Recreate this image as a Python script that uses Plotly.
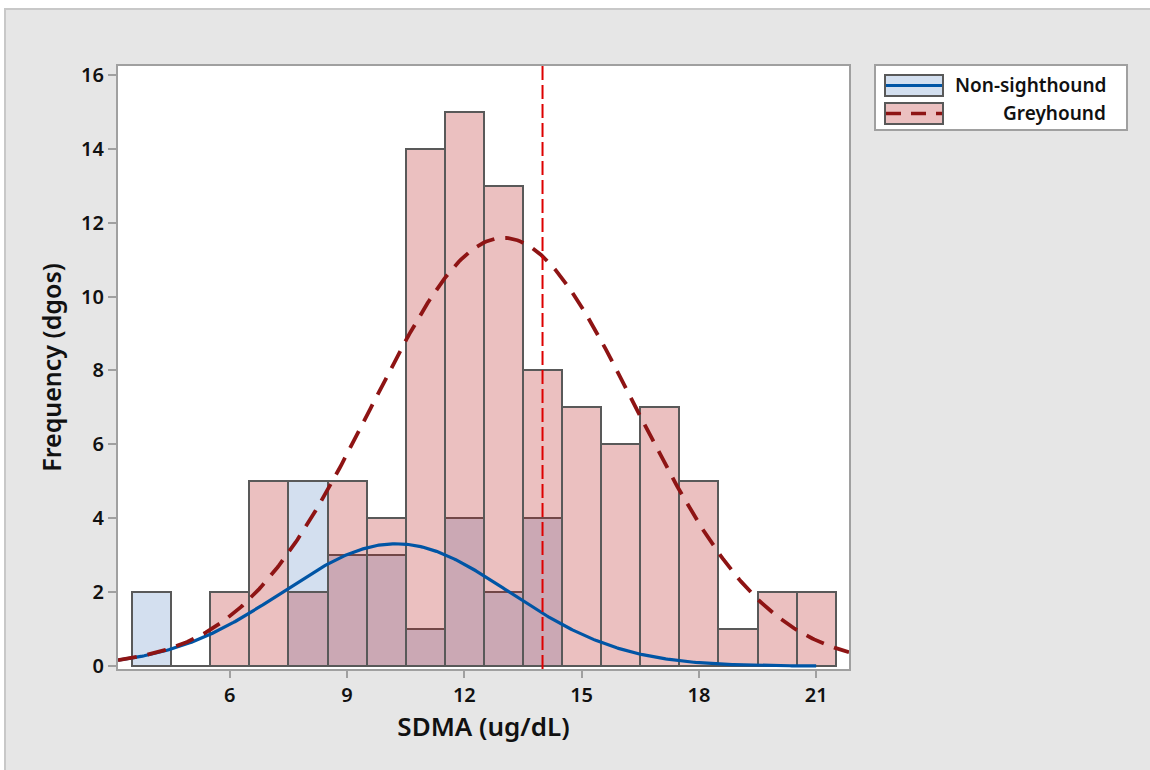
import numpy as np
import plotly.graph_objects as go

# ---- data ----
bin_centers = [4, 5, 6, 7, 8, 9, 10, 11, 12, 13, 14, 15, 16, 17, 18, 19, 20, 21]
non_sighthound = [2, 0, 0, 0, 5, 3, 3, 1, 4, 2, 4, 0, 0, 0, 0, 0, 0, 0]
greyhound = [0, 0, 2, 5, 2, 5, 4, 14, 15, 13, 8, 7, 6, 7, 5, 1, 2, 2]
x_ticks = [6, 9, 12, 15, 18, 21]
y_ticks = [0, 2, 4, 6, 8, 10, 12, 14, 16]
reference_value = 14
bin_width = 1.0

X_RANGE = [3.14, 21.84]
Y_RANGE = [-0.08, 16.24]

# ---- layout geometry (page pixels; body margin removed by post_script) ----
W, H = 1150, 770
L, R, T, B = 118, 849, 66, 669


def px(xp):
    return (xp - L) / (R - L)


def py(yp):
    return (B - yp) / (B - T)


def fit_curve(counts, x_lo, x_hi):
    c = np.array(counts, float)
    xc = np.array(bin_centers, float)
    n = c.sum()
    m = (c * xc).sum() / n
    sd = np.sqrt((c * (xc - m) ** 2).sum() / (n - 1))
    xs = np.linspace(x_lo, x_hi, 400)
    ys = n * bin_width * np.exp(-0.5 * ((xs - m) / sd) ** 2) / (sd * np.sqrt(2 * np.pi))
    return xs, ys


BLUE_FILL = "#D3DFEF"
RED_FILL = "rgba(181,22,22,0.27)"
EDGE = "#595959"
BLUE_LINE = "#0055A5"
RED_LINE = "#8E1414"
FONT = "Noto Sans"
TXT = "#111111"

fig = go.Figure()
fig.add_trace(go.Bar(x=bin_centers, y=non_sighthound, width=bin_width,
                     marker=dict(color=BLUE_FILL, line=dict(color=EDGE, width=2)),
                     name="Non-sighthound", showlegend=False))
fig.add_trace(go.Bar(x=bin_centers, y=greyhound, width=bin_width,
                     marker=dict(color=RED_FILL, line=dict(color=EDGE, width=2)),
                     name="Greyhound", showlegend=False))

gx, gy = fit_curve(greyhound, X_RANGE[0], X_RANGE[1])
nx, ny = fit_curve(non_sighthound, X_RANGE[0], 21.0)
fig.add_trace(go.Scatter(x=nx, y=ny, mode="lines",
                         line=dict(color=BLUE_LINE, width=3.2), showlegend=False))
fig.add_trace(go.Scatter(x=gx, y=gy, mode="lines",
                         line=dict(color=RED_LINE, width=3.8, dash="19px,11px"), showlegend=False))

shapes = [
    # outer frame (white margin top/left, grey panel)
    dict(type="rect", xref="paper", yref="paper", x0=px(5), x1=px(1175), y0=py(9), y1=py(795),
         fillcolor="#E6E6E6", line=dict(color="#C8C8C8", width=2), layer="below"),
    # plot area background
    dict(type="rect", xref="paper", yref="paper", x0=0, x1=1, y0=0, y1=1,
         fillcolor="white", line=dict(width=0), layer="below"),
    # reference line
    dict(type="line", xref="x", yref="paper", x0=reference_value, x1=reference_value, y0=0, y1=1,
         line=dict(color="#DD0000", width=2, dash="14px,5px"), layer="above"),
    # legend box
    dict(type="rect", xref="paper", yref="paper", x0=px(875), x1=px(1127), y0=py(65), y1=py(130),
         fillcolor="white", line=dict(color="#A0A0A0", width=2), layer="above"),
    # legend swatch: non-sighthound
    dict(type="rect", xref="paper", yref="paper", x0=px(885), x1=px(943), y0=py(75), y1=py(96),
         fillcolor=BLUE_FILL, line=dict(color=EDGE, width=2), layer="above"),
    dict(type="line", xref="paper", yref="paper", x0=px(886), x1=px(942), y0=py(85.5), y1=py(85.5),
         line=dict(color=BLUE_LINE, width=3), layer="above"),
    # legend swatch: greyhound
    dict(type="rect", xref="paper", yref="paper", x0=px(885), x1=px(943), y0=py(103), y1=py(124),
         fillcolor="#EBC0C0", line=dict(color=EDGE, width=2), layer="above"),
    dict(type="line", xref="paper", yref="paper", x0=px(886), x1=px(942), y0=py(113.5), y1=py(113.5),
         line=dict(color=RED_LINE, width=3.5, dash="15px,10px"), layer="above"),
]

annotations = [
    dict(text="Non-sighthound", xref="paper", yref="paper", x=px(1108), y=py(85),
         xanchor="right", yanchor="middle", showarrow=False,
         font=dict(family=FONT, size=19, color=TXT, weight=600)),
    dict(text="Greyhound", xref="paper", yref="paper", x=px(1108), y=py(113),
         xanchor="right", yanchor="middle", showarrow=False,
         font=dict(family=FONT, size=19, color=TXT, weight=600)),
]

axis_common = dict(showline=True, linecolor="#A0A0A0", linewidth=2, mirror=True,
                   ticks="outside", tickcolor="#A0A0A0", tickwidth=2,
                   showgrid=False, zeroline=False,
                   tickfont=dict(family=FONT, size=20, color=TXT, weight=600))

fig.update_layout(
    width=W, height=H,
    margin=dict(l=L, r=W - R, t=T, b=H - B, pad=0),
    paper_bgcolor="white", plot_bgcolor="white",
    barmode="overlay", bargap=0,
    xaxis=dict(range=X_RANGE, tickmode="array", tickvals=x_ticks, ticklen=7,
               title=dict(text="SDMA (ug/dL)", standoff=8,
                          font=dict(family=FONT, size=26, color=TXT, weight=600)),
               **axis_common),
    yaxis=dict(range=Y_RANGE, tickmode="array", tickvals=y_ticks, ticklen=8,
               title=dict(text="Frequency (dgos)", standoff=12,
                          font=dict(family=FONT, size=25, color=TXT, weight=600)),
               **axis_common),
    shapes=shapes, annotations=annotations,
)

fig.write_html(
    "out.html",
    config={"displayModeBar": False},
    post_script="document.body.style.margin='0';document.body.style.overflow='hidden';",
)
